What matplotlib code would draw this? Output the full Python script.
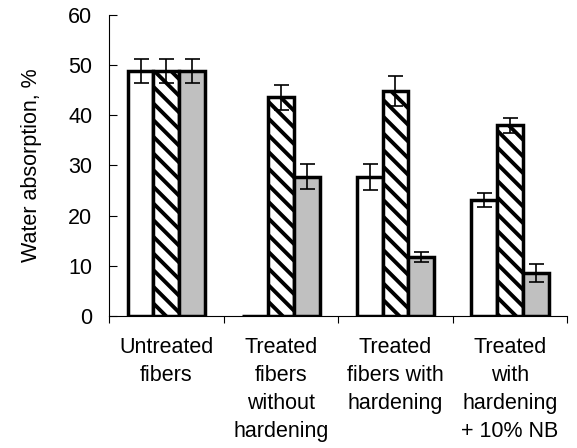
import numpy as np
import matplotlib
matplotlib.use('Agg')
import matplotlib.pyplot as plt

plt.rcParams['font.family'] = ['Liberation Sans', 'DejaVu Sans']
plt.rcParams['hatch.linewidth'] = 2.8

categories = ['Untreated\nfibers', 'Treated\nfibers\nwithout\nhardening',
              'Treated\nfibers with\nhardening', 'Treated\nwith\nhardening\n+ 10% NB']
white_vals = [48.8, 0.0, 27.7, 23.1]
white_err = [2.4, 0.0, 2.6, 1.4]
hatch_vals = [48.8, 43.6, 44.8, 38.0]
hatch_err = [2.4, 2.5, 3.0, 1.5]
gray_vals = [48.8, 27.7, 11.8, 8.6]
gray_err = [2.4, 2.5, 1.0, 1.8]

fig = plt.figure(figsize=(5.77, 4.48), dpi=100)
ax = fig.add_axes([0.189, 0.295, 0.794, 0.6715])

x = np.arange(len(categories))
w = 0.225
err_kw = dict(ecolor='black', elinewidth=1.2, capsize=5.4, capthick=1.2)
ax.bar(x - w, white_vals, w, yerr=white_err, color='white', edgecolor='black',
       linewidth=2.5, error_kw=err_kw)
ax.bar(x, hatch_vals, w, yerr=hatch_err, color='white', edgecolor='black',
       linewidth=2.5, hatch='\\\\', error_kw=err_kw)
ax.bar(x + w, gray_vals, w, yerr=gray_err, color='#c0c0c0', edgecolor='black',
       linewidth=2.5, error_kw=err_kw)

ax.set_xlim(-0.5, 3.5)
ax.set_ylim(0, 60)
ax.set_yticks(range(0, 61, 10))
ax.tick_params(axis='y', direction='in', length=6, labelsize=15.5, pad=12)
ax.set_xticks([-0.5, 0.5, 1.5, 2.5, 3.5])
ax.set_xticklabels([])
ax.set_xticks(x, minor=True)
ax.set_xticklabels(categories, minor=True, fontsize=15.5, linespacing=1.43, va='top')
ax.tick_params(axis='x', which='major', direction='out', length=5)
ax.tick_params(axis='x', which='minor', length=0, pad=15.5)
ax.spines['top'].set_visible(False)
ax.spines['right'].set_visible(False)
ax.set_ylabel('Water absorption, %', fontsize=15.5, labelpad=19)

fig.savefig('out.png', dpi=100)
